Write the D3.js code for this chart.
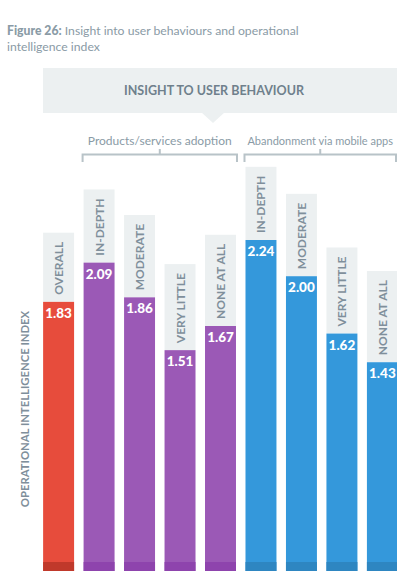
<!DOCTYPE html>
<html>
<head>
<meta charset="utf-8">
<script src="https://cdn.jsdelivr.net/npm/d3@7"></script>
<style>
  body { margin: 0; background: #fff; }
  svg { display: block; font-family: "Lato", "Open Sans", sans-serif; }
</style>
</head>
<body>
<svg id="Viz" width="397" height="571"></svg>
<script>
// chart data
var categories = ["OVERALL", "IN-DEPTH", "MODERATE", "VERY LITTLE", "NONE AT ALL",
                  "IN-DEPTH", "MODERATE", "VERY LITTLE", "NONE AT ALL"];
var values = [1.83, 2.09, 1.86, 1.51, 1.67, 2.24, 2.00, 1.62, 1.43];
var groups = ["overall", "adoption", "adoption", "adoption", "adoption",
              "abandon", "abandon", "abandon", "abandon"];
var groupLabels = ["Products/services adoption", "Abandonment via mobile apps"];
var groupMembers = [["adoption"], ["abandon"]];

var colors = {overall: "#e74c3c", adoption: "#9b59b6", abandon: "#3498db"};
var darkColors = {overall: "#c0392b", adoption: "#8e44ad", abandon: "#2e86c1"};

var svg = d3.select("#Viz"),
    width = +svg.attr("width"),
    height = +svg.attr("height");

var idx = d3.range(values.length);

var x = d3.scaleBand()
  .domain(idx)
  .range([33, 408])
  .paddingInner(0.235)
  .paddingOuter(0.25);

var y = d3.scaleLinear()
  .domain([0, 2.24])
  .range([578, 240]);

// title
var title = svg.append("text")
  .attr("x", 7).attr("y", 35)
  .attr("fill", "#8a9ba6")
  .style("font-size", "12.2px");
title.append("tspan").attr("font-weight", 900).text("Figure 26:");
title.append("tspan").text("  Insight into user behaviours and operational");
svg.append("text")
  .attr("x", 7).attr("y", 51)
  .attr("fill", "#8a9ba6")
  .style("font-size", "12.2px")
  .text("intelligence index");

// header banner
svg.append("rect")
  .attr("x", 43).attr("y", 68)
  .attr("width", width - 43).attr("height", 45)
  .attr("fill", "#ecf0f1");
svg.append("path")
  .attr("d", "M201,112 L225,112 L213,123 Z")
  .attr("fill", "#ecf0f1");
svg.append("text")
  .attr("x", 214).attr("y", 94.5)
  .attr("text-anchor", "middle")
  .attr("fill", "#6f808c")
  .attr("font-weight", 700)
  .style("font-size", "12.5px")
  .text("INSIGHT TO USER BEHAVIOUR");

// group brackets
groupLabels.forEach(function(lbl, i) {
  var members = idx.filter(function(d) { return groupMembers[i].indexOf(groups[d]) >= 0; });
  var x0 = x(members[0]) - 1,
      x1 = Math.min(x(members[members.length - 1]) + x.bandwidth() + 1, width - 1),
      cx = (x0 + x1) / 2;
  svg.append("text")
    .attr("x", cx).attr("y", 145)
    .attr("text-anchor", "middle")
    .attr("fill", "#8a9ba6")
    .style("font-size", i == 0 ? "12px" : "11px")
    .text(lbl);
  svg.append("path")
    .attr("d", "M" + x0 + ",162 V154.5 H" + x1 + " V162 M" + cx + ",154.5 V149")
    .attr("fill", "none")
    .attr("stroke", "#b8c3c8")
    .attr("stroke-width", 2);
});

// y axis title
svg.append("text")
  .attr("transform", "translate(29,409) rotate(-90)")
  .attr("text-anchor", "middle")
  .attr("fill", "#7f8f9b")
  .attr("font-weight", 700)
  .style("font-size", "11.3px")
  .text("OPERATIONAL  INTELLIGENCE INDEX");

// bars
var bar = svg.selectAll(".bar")
  .data(idx)
  .enter().append("g")
  .attr("class", "bar")
  .attr("transform", function(d) { return "translate(" + x(d) + ",0)"; });

// category labels, measured to size the grey boxes
var labels = bar.append("text")
  .attr("transform", function(d) {
    return "translate(" + (x.bandwidth() / 2 + 4.5) + "," + (y(values[d]) - 7) + ") rotate(-90)";
  })
  .attr("fill", "#7f8f9b")
  .attr("font-weight", 700)
  .style("font-size", "12px")
  .text(function(d) { return categories[d]; });

bar.insert("rect", "text")
  .attr("x", 0)
  .attr("width", x.bandwidth())
  .attr("y", function(d, i) {
    return y(values[d]) - labels.nodes()[i].getComputedTextLength() - 16;
  })
  .attr("height", function(d, i) {
    return labels.nodes()[i].getComputedTextLength() + 16;
  })
  .attr("fill", "#ecf0f1");

bar.append("rect")
  .attr("x", 0)
  .attr("width", x.bandwidth())
  .attr("y", function(d) { return y(values[d]); })
  .attr("height", function(d) { return height - y(values[d]); })
  .attr("fill", function(d) { return colors[groups[d]]; });

bar.append("rect")
  .attr("x", 0)
  .attr("width", x.bandwidth())
  .attr("y", height - 9)
  .attr("height", 9)
  .attr("fill", function(d) { return darkColors[groups[d]]; });

bar.append("text")
  .attr("x", x.bandwidth() / 2)
  .attr("y", function(d) { return y(values[d]) + 16; })
  .attr("text-anchor", "middle")
  .attr("fill", "#fff")
  .attr("font-weight", 900)
  .style("font-size", "13.5px")
  .text(function(d) { return values[d].toFixed(2); });
</script>
</body>
</html>
